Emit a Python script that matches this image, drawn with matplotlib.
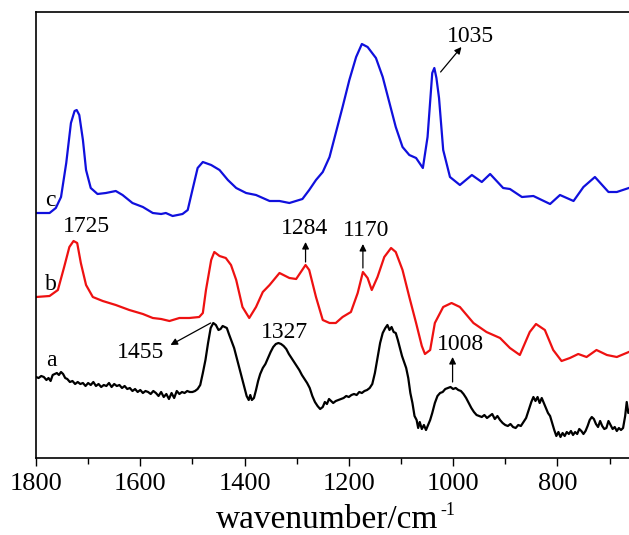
import numpy as np
import matplotlib
matplotlib.use('Agg')
import matplotlib.pyplot as plt
from matplotlib.ticker import MultipleLocator

plt.rcParams['font.family'] = ['Liberation Serif', 'DejaVu Serif']

# spectrum c (blue), offset on top
wn_c = [1800, 1774, 1762, 1752, 1742, 1733, 1726, 1722, 1717, 1710, 1704, 1695, 1682, 1666,
        1647, 1634, 1615, 1595, 1576, 1560, 1551, 1538, 1519, 1509, 1500, 1490, 1480, 1464,
        1448, 1432, 1416, 1397, 1378, 1352, 1333, 1314, 1289, 1276, 1263, 1250, 1237, 1225,
        1212, 1199, 1186, 1175, 1164, 1148, 1135, 1122, 1110, 1097, 1084, 1071, 1058, 1049,
        1040, 1036, 1032, 1027, 1019, 1006, 987, 964, 945, 929, 904, 891, 868, 846,
        814, 795, 769, 750, 728, 702, 686, 663]
int_c = [245, 245, 250, 261, 295, 335, 347, 348, 343, 318, 288, 270, 264, 265,
         267, 263, 255, 251, 245, 244, 245, 242, 244, 248, 268, 290, 296, 293,
         288, 278, 270, 265, 263, 257, 257, 255, 259, 268, 278, 286, 301, 325,
         351, 378, 401, 414, 411, 400, 381, 355, 331, 311, 303, 300, 290, 321,
         385, 390, 380, 360, 308, 281, 273, 283, 276, 284, 270, 269, 261, 262,
         254, 263, 257, 271, 281, 266, 266, 270]

# spectrum b (red)
wn_b = [1800, 1774, 1758, 1746, 1736, 1728, 1721, 1714, 1704, 1691, 1672, 1647, 1621, 1595,
        1576, 1560, 1544, 1525, 1506, 1487, 1480, 1474, 1464, 1458, 1448, 1436, 1426, 1416,
        1404, 1391, 1378, 1365, 1352, 1333, 1314, 1301, 1292, 1283, 1276, 1263, 1250, 1237,
        1225, 1212, 1196, 1183, 1173, 1164, 1156, 1145, 1132, 1119, 1110, 1097, 1084, 1071,
        1060, 1054, 1044, 1035, 1019, 1003, 987, 961, 936, 910, 891, 872, 853, 841,
        824, 808, 792, 776, 760, 744, 725, 705, 686, 663]
int_b = [161, 162, 168, 191, 211, 217, 215, 195, 173, 161, 157, 153, 148, 144,
         140, 139, 137, 140, 140, 141, 145, 168, 198, 206, 202, 200, 193, 178,
         151, 140, 151, 166, 173, 185, 180, 179, 186, 193, 188, 161, 138, 135,
         135, 141, 146, 165, 186, 180, 168, 181, 201, 210, 206, 188, 161, 135,
         112, 104, 108, 135, 151, 155, 151, 135, 126, 120, 110, 103, 126, 134,
         128, 108, 97, 100, 104, 101, 108, 103, 101, 106]

# spectrum a (black)
wn_a = [1800, 1795, 1790, 1785, 1780, 1776, 1772, 1768, 1764, 1760, 1756, 1752, 1748, 1744,
        1740, 1735, 1730, 1725, 1720, 1715, 1710, 1705, 1700, 1695, 1690, 1685, 1680, 1675,
        1670, 1665, 1660, 1655, 1650, 1645, 1640, 1635, 1630, 1625, 1620, 1615, 1610, 1605,
        1600, 1595, 1590, 1585, 1580, 1575, 1570, 1565, 1560, 1555, 1550, 1545, 1540, 1535,
        1530, 1525, 1520, 1515, 1510, 1505, 1500, 1495, 1490, 1485, 1480, 1475, 1470, 1465,
        1460, 1455, 1450, 1446, 1442, 1438, 1434, 1430, 1425, 1420, 1415, 1410, 1405, 1400,
        1396, 1392, 1389, 1386, 1382, 1378, 1374, 1370, 1365, 1360, 1355, 1350, 1345, 1340,
        1335, 1330, 1325, 1320, 1315, 1310, 1305, 1300, 1295, 1290, 1285, 1280, 1275, 1270,
        1265, 1260, 1255, 1250, 1246, 1242, 1238, 1234, 1230, 1225, 1220, 1215, 1210, 1205,
        1200, 1195, 1190, 1185, 1180, 1175, 1170, 1165, 1160, 1155, 1150, 1145, 1140, 1135,
        1130, 1126, 1122, 1118, 1114, 1110, 1106, 1102, 1098, 1094, 1090, 1086, 1082, 1078,
        1074, 1070, 1067, 1064, 1060, 1056, 1052, 1048, 1044, 1040, 1035, 1030, 1025, 1020,
        1015, 1010, 1005, 1000, 995, 990, 985, 980, 975, 970, 965, 960, 955, 950,
        945, 940, 935, 930, 925, 920, 915, 910, 905, 900, 895, 890, 885, 880,
        875, 870, 865, 860, 855, 850, 846, 842, 838, 834, 830, 826, 822, 818,
        814, 810, 806, 802, 798, 794, 790, 786, 782, 778, 774, 770, 766, 762,
        758, 754, 750, 746, 742, 738, 734, 730, 726, 722, 718, 714, 710, 706,
        702, 698, 694, 690, 686, 682, 678, 674, 670, 667, 664, 660]
int_a = [81, 80, 82, 81, 78, 80, 77, 83, 84, 85, 83, 86, 84, 80,
         79, 76, 77, 74, 76, 74, 75, 72, 75, 73, 76, 72, 74, 71,
         73, 72, 75, 71, 74, 72, 73, 70, 72, 69, 70, 67, 69, 66,
         68, 65, 67, 66, 64, 67, 65, 62, 66, 61, 64, 59, 65, 60,
         67, 64, 66, 65, 67, 66, 66, 67, 69, 73, 85, 98, 115, 130,
         135, 133, 128, 129, 132, 131, 130, 124, 117, 110, 100, 90, 80, 70,
         62, 58, 63, 58, 60, 68, 77, 84, 90, 94, 100, 106, 111, 114,
         115, 114, 112, 109, 104, 100, 96, 92, 88, 83, 79, 75, 70, 62,
         56, 52, 49, 51, 56, 54, 59, 57, 55, 57, 58, 59, 60, 62,
         61, 63, 64, 63, 66, 65, 67, 68, 70, 74, 85, 100, 115, 125,
         130, 133, 128, 131, 126, 125, 118, 110, 102, 96, 90, 80, 65, 55,
         42, 38, 30, 36, 29, 33, 28, 33, 38, 45, 55, 62, 65, 66,
         69, 70, 71, 69, 70, 68, 67, 64, 60, 55, 50, 46, 43, 42,
         41, 43, 40, 42, 44, 39, 42, 38, 35, 33, 32, 34, 31, 30,
         33, 32, 36, 40, 48, 56, 61, 57, 61, 55, 60, 55, 50, 45,
         42, 35, 28, 22, 26, 21, 25, 22, 26, 24, 27, 23, 26, 24,
         29, 27, 24, 27, 32, 38, 41, 39, 34, 31, 37, 32, 29, 30,
         37, 33, 29, 31, 27, 30, 28, 30, 42, 56, 45, 50]

fig = plt.figure(figsize=(6.29, 5.35), dpi=100)
ax = fig.add_axes([36/629, 77/535, 604.8/629, 446/535])

ax.plot(wn_a, int_a, color='black', lw=1.6)
ax.plot(wn_b, int_b, color='#ee1111', lw=1.6)
ax.plot(wn_c, int_c, color='#1010dd', lw=1.6)

ax.set_xlim(1800, 640)
ax.set_ylim(0, 446)
ax.set_yticks([])
ax.xaxis.set_major_locator(MultipleLocator(200))
ax.xaxis.set_minor_locator(MultipleLocator(100))
ax.tick_params(axis='x', which='major', direction='out', length=6, width=1, labelsize=19, pad=5)
ax.tick_params(axis='x', which='minor', direction='out', length=4, width=1)
for s in ax.spines.values():
    s.set_linewidth(1.2)
lab = ax.set_xlabel('wavenumber/cm', fontsize=24, labelpad=7)
lab.set_x(0.481)

# superscript -1 placed just after the label
fig.canvas.draw()
bb = lab.get_window_extent()
fig.text((bb.x1 + 2) / 629, (bb.y1 + 3) / 535, '-1', fontsize=13, ha='left', va='top')

# curve labels
fs = 17
ax.text(1772, 258, 'c', fontsize=fs, ha='center', va='center')
ax.text(1772, 173, 'b', fontsize=fs, ha='center', va='center')
ax.text(1770, 98, 'a', fontsize=fs, ha='center', va='center')

arw = dict(arrowstyle='-|>', color='black', lw=0.9, mutation_scale=10, shrinkA=0, shrinkB=0)
ax.annotate('', xy=(984, 411), xytext=(1024, 386), arrowprops=arw)
ax.text(966, 421, '1035', fontsize=fs, ha='center', va='center')

ax.text(1704, 231, '1725', fontsize=fs, ha='center', va='center')

ax.annotate('', xy=(1283, 216), xytext=(1283, 196), arrowprops=arw)
ax.text(1284, 230, '1284', fontsize=fs, ha='center', va='center')

ax.annotate('', xy=(1173, 214), xytext=(1173, 190), arrowprops=arw)
ax.text(1167, 228, '1170', fontsize=fs, ha='center', va='center')

ax.annotate('', xy=(1542, 113), xytext=(1465, 135), arrowprops=arw)
ax.text(1600, 106, '1455', fontsize=fs, ha='center', va='center')

ax.text(1323, 126, '1327', fontsize=fs, ha='center', va='center')

ax.annotate('', xy=(1001, 101), xytext=(1001, 76), arrowprops=arw)
ax.text(986, 113, '1008', fontsize=fs, ha='center', va='center')

fig.savefig('out.png', dpi=100)
